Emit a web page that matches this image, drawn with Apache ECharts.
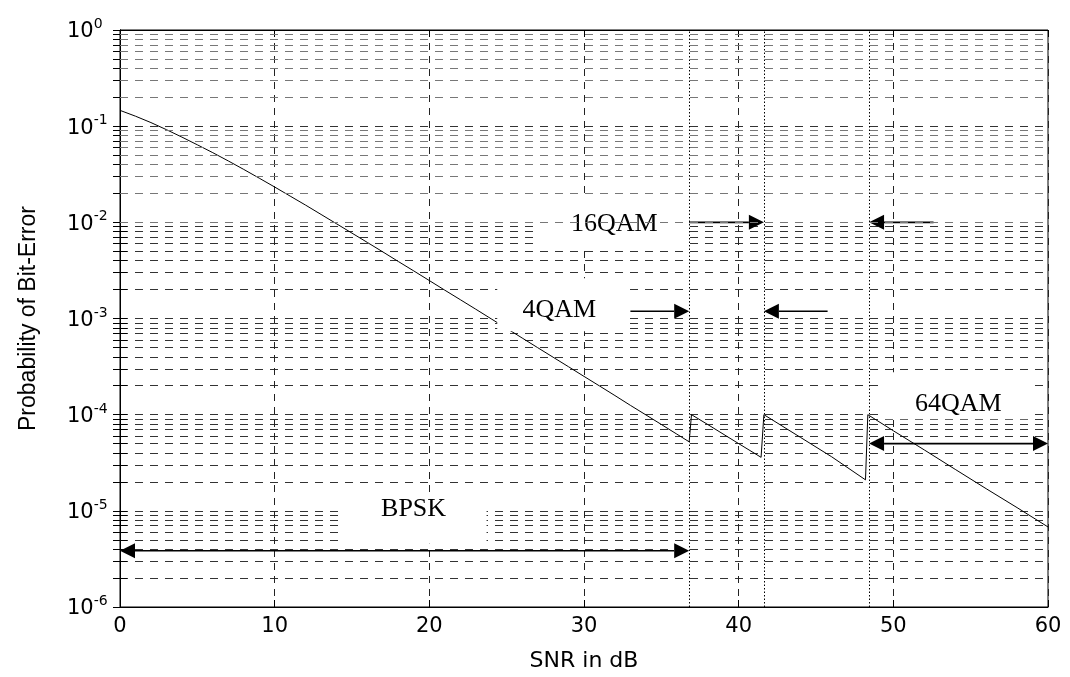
<!DOCTYPE html>
<html><head><meta charset="utf-8">
<script src="https://cdn.jsdelivr.net/npm/echarts@6/dist/echarts.min.js"></script>
<style>html,body{margin:0;padding:0;background:#fff}#c{width:1070px;height:677px}</style>
</head><body><div id="c"></div>
<script>
// ---- data ----
const snrDb = [0,1,2,3,4,5,6,7,8,9,10,11,12,13,14,15,16,17,18,19,20,21,22,23,24,25,26,27,28,29,30,31,32,33,34,35,36,36.8,
  36.95,38,40,41.45,
  41.63,44,46,48.2,
  48.35,50,52,54,56,58,60];
const berValues = [0.146,0.127,0.109,0.092,0.077,0.064,0.053,0.0435,0.0355,0.0288,0.0233,0.01875,0.0151,0.01208,0.00966,0.00772,0.00617,0.00492,0.00391,0.00312,0.00248,0.00197,0.00157,0.00125,0.000992,0.000789,0.000627,0.000498,0.000396,0.000315,0.00025,0.000199,0.000158,0.000125,0.0000995,0.0000791,0.0000628,0.0000522,
  0.0001,0.000079,0.00005,0.000036,
  0.0001,0.000058,0.0000366,0.000021,
  0.0001,0.000068,0.000043,0.000027,0.000017,0.0000108,0.0000068];
const switchSnr = [36.8, 41.63, 48.43];
const xTickValues = [0,10,20,30,40,50,60];
const yDecadeValues = [1e-6,1e-5,1e-4,1e-3,1e-2,1e-1,1];
const minorMantissas = [2,3,4,5,6,7,8,9];
const labelTexts = ['BPSK','4QAM','16QAM','64QAM'];
const labelSnr = [18.98, 28.4, 31.96, 54.2];
const labelBer = [1.05e-5, 1.22e-3, 9.65e-3, 1.28e-4];
const arrowFrom = [0, 33.0, 45.75, 36.8, 52.6, 48.43];
const arrowTo = [36.8, 36.8, 41.63, 41.63, 48.43, 60];
const arrowBer = [3.85e-6, 1.19e-3, 1.19e-3, 1e-2, 1e-2, 5e-5];
const arrowBoth = [1, 0, 0, 0, 0, 1];

// ---- styles ----
const labelBoxPad = [ // [top,right,bottom,left] px
  [12,73,35,70],[32,68,21,62],[25,75,23,76],[32,73,15,77]
];
const tickFont = 'DejaVu Sans';

const curve = snrDb.map((x,i)=>[x, berValues[i]]);
const minorValues = [];
yDecadeValues.slice(0,-1).forEach(d => minorMantissas.forEach(m => minorValues.push(+(m*d).toPrecision(3))));
const allYTicks = yDecadeValues.concat(minorValues);
const minorLines = minorValues.map(v => ({yAxis: v}));
const switchLines = switchSnr.map(x => ({xAxis: x, lineStyle: {type: [1.5,2], color: '#000', width: 1}}));

const labelData = labelTexts.map((t,i)=>[labelSnr[i], labelBer[i], i]);
const arrowData = arrowFrom.map((f,i)=>[f, arrowTo[i], arrowBer[i], arrowBoth[i]]);

function renderLabel(params, api) {
  const i = api.value(2);
  const c = api.coord([api.value(0), api.value(1)]);
  const p = labelBoxPad[i];
  return {type: 'group', children: [
    {type: 'rect', shape: {x: c[0]-p[3], y: c[1]-p[0], width: p[1]+p[3], height: p[0]+p[2]}, style: {fill: '#fff'}},
    {type: 'text', x: c[0], y: c[1], style: {text: labelTexts[i], fill: '#000', fontSize: 26, fontFamily: 'Liberation Serif', align: 'center', verticalAlign: 'middle'}}
  ]};
}
function renderArrow(params, api) {
  const p1 = api.coord([api.value(0), api.value(2)]);
  const p2 = api.coord([api.value(1), api.value(2)]);
  const both = api.value(3);
  const dir = p2[0] > p1[0] ? 1 : -1;
  const L = 15, H = 7.5;
  const kids = [];
  kids.push({type: 'polygon', shape: {points: [[p2[0], p2[1]], [p2[0]-dir*L, p2[1]-H], [p2[0]-dir*L, p2[1]+H]]}, style: {fill: '#000'}});
  let sx = p1[0];
  if (both) {
    kids.push({type: 'polygon', shape: {points: [[p1[0], p1[1]], [p1[0]+dir*L, p1[1]-H], [p1[0]+dir*L, p1[1]+H]]}, style: {fill: '#000'}});
    sx = p1[0] + dir*L;
  }
  kids.push({type: 'line', shape: {x1: sx, y1: p1[1], x2: p2[0]-dir*L, y2: p2[1]}, style: {stroke: '#000', lineWidth: 1.6}});
  return {type: 'group', children: kids};
}

const tickStyle = {inside: true, length: 7, lineStyle: {color: '#000'}};
const chart = echarts.init(document.getElementById('c'), null, {renderer: 'canvas'});
chart.setOption({
  animation: false,
  backgroundColor: '#fff',
  grid: {left: 120, right: 22, top: 30, bottom: 65, show: true, borderColor: '#000', borderWidth: 1, backgroundColor: 'transparent'},
  xAxis: [{
    type: 'value', min: 0, max: 60, interval: 10,
    name: 'SNR in dB', nameLocation: 'middle', nameGap: 43,
    nameTextStyle: {fontFamily: tickFont, fontSize: 22, color: '#000'},
    axisLine: {lineStyle: {color: '#000', width: 1}},
    axisTick: tickStyle,
    axisLabel: {margin: 9, fontFamily: tickFont, fontSize: 21, color: '#000', customValues: xTickValues},
    splitLine: {show: true, lineStyle: {type: [7,6], color: '#222', width: 1}}
  }, {
    type: 'value', min: 0, max: 60, interval: 10, position: 'top',
    axisLine: {show: true, lineStyle: {color: '#000', width: 1}},
    axisTick: tickStyle, axisLabel: {show: false}, splitLine: {show: false}
  }],
  yAxis: [{
    type: 'log', logBase: 10, min: 1e-6, max: 1, splitNumber: 6,
    name: 'Probability of Bit-Error', nameLocation: 'middle', nameGap: 80, nameRotate: 90,
    nameTextStyle: {fontFamily: 'Liberation Sans', fontSize: 23, color: '#000'},
    axisLine: {show: true, lineStyle: {color: '#000', width: 1}},
    axisTick: Object.assign({customValues: allYTicks}, tickStyle),
    axisLabel: {
      margin: 53, align: 'left', customValues: yDecadeValues,
      formatter: v => '{b|10}{s|' + Math.round(Math.log10(v)) + '}',
      rich: {
        b: {fontFamily: tickFont, fontSize: 21, color: '#000', verticalAlign: 'bottom'},
        s: {fontFamily: tickFont, fontSize: 14, color: '#000', verticalAlign: 'bottom', padding: [0,0,11,0]}
      }
    },
    splitLine: {show: true, lineStyle: {type: [8,7], color: '#333', width: 1}}
  }, {
    type: 'log', logBase: 10, min: 1e-6, max: 1, splitNumber: 6, position: 'right',
    axisLine: {show: true, lineStyle: {color: '#000', width: 1}},
    axisTick: Object.assign({customValues: allYTicks}, tickStyle),
    axisLabel: {show: false}, splitLine: {show: false}
  }],
  series: [
    {
      type: 'line', data: curve, z: 2, symbol: 'none', silent: true,
      lineStyle: {color: '#000', width: 1},
      markLine: {
        silent: true, symbol: ['none','none'], label: {show: false}, animation: false,
        lineStyle: {type: [8,7], color: '#777', width: 1},
        emphasis: {disabled: true},
        data: minorLines.concat(switchLines)
      }
    },
    {type: 'custom', z: 3, silent: true, renderItem: renderLabel, data: labelData, encode: {x: 0, y: 1}, clip: false},
    {type: 'custom', z: 4, silent: true, renderItem: renderArrow, data: arrowData, encode: {x: [0,1], y: 2}, clip: false}
  ]
});
</script>
</body></html>
